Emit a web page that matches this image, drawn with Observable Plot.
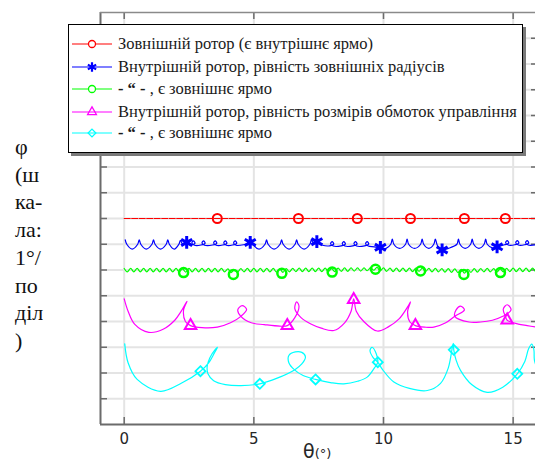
<!DOCTYPE html>
<html><head><meta charset="utf-8">
<script src="https://cdn.jsdelivr.net/npm/d3@7"></script>
<script src="https://cdn.jsdelivr.net/npm/@observablehq/plot@0.6"></script>
<style>
body{margin:0;background:#fff;}
#wrap{position:relative;width:535px;height:467px;overflow:hidden;background:#fff;}
#ylab{position:absolute;left:15px;top:133px;font-family:'Liberation Serif','Times New Roman',serif;font-size:22px;line-height:27.7px;color:#111;}
#xlab{position:absolute;left:303px;top:440px;font-family:'DejaVu Sans',sans-serif;color:#262626;white-space:nowrap;}
#legend{position:absolute;left:68px;top:24px;width:455px;height:129px;border:1px solid #000;background:#fff;box-shadow:3px 3px 0 #7a7a7a;box-sizing:border-box;}
.row{position:absolute;left:0;height:22px;width:450px;}
.row svg{position:absolute;left:1px;top:0;}
.row span{position:absolute;left:49px;top:0;line-height:22px;font-family:'Liberation Serif','Times New Roman',serif;font-size:16.5px;color:#1a1a1a;white-space:nowrap;}
</style></head>
<body><div id="wrap"></div>
<script>
const xTicks = [0, 5, 10, 15];
const yTicks = [1,2,3,4,5,6,7,8,9,10,11,12,13,14,15];
const xDomain = [-0.914, 15.862];
const yDomain = [0, 16];

const seriesNames = [
  "Зовнішній ротор (є внутрішнє ярмо)",
  "Внутрішній ротор, рівність зовнішніх радіусів",
  "- “ - , є зовнішнє ярмо",
  "Внутрішній ротор, рівність розмірів обмоток управління",
  "- “ - , є зовнішнє ярмо"
];
const seriesColors = ["#ff0000", "#0000ff", "#00ff00", "#ff00ff", "#00ffff"];
const seriesSymbols = ["circle", "asterisk", "circle", "triangle2", "diamond2"];

const redPts = [[0, 8], [15.9, 8]];
const redMarks = [[3.59, 8], [6.72, 8], [8.99, 8], [11.04, 8], [13.12, 8], [14.70, 8]];

const bluePts = [
 [0.04,7.17],[0.1,7.0],[0.31,6.81],[0.52,7.0],[0.58,7.17],
 [0.64,7.0],[0.85,6.81],[1.07,7.0],[1.13,7.17],
 [1.19,7.0],[1.4,6.81],[1.62,7.0],[1.68,7.17],
 [1.74,7.0],[1.93,6.81],[2.11,7.0],[2.17,7.15],
 [2.26,7.0],[2.41,7.05],
 [2.57,6.97],[2.73,7.04],[2.67,7.13],[2.61,7.05],[2.71,6.96],
 [2.96,6.97],[3.12,7.04],[3.06,7.13],[3.0,7.05],[3.1,6.96],
 [3.41,6.97],[3.57,7.04],[3.51,7.13],[3.45,7.05],[3.55,6.96],
 [3.8,6.97],[3.96,7.04],[3.9,7.13],[3.84,7.05],[3.94,6.96],
 [4.18,6.97],[4.34,7.04],[4.28,7.13],[4.22,7.05],[4.32,6.96],
 [4.6,6.98],[4.86,7.07],
 [4.91,7.17],[4.97,7.0],[5.2,6.81],[5.43,7.0],[5.49,7.17],
 [5.55,7.0],[5.78,6.81],[6.01,7.0],[6.07,7.17],
 [6.13,7.0],[6.36,6.81],[6.59,7.0],[6.65,7.17],
 [6.71,7.0],[6.94,6.81],[7.16,7.0],[7.22,7.17],
 [7.3,7.04],[7.43,7.07],[7.65,6.96],
 [7.92,6.94],[8.08,7.01],[8.02,7.1],[7.96,7.02],[8.06,6.93],
 [8.37,6.94],[8.53,7.01],[8.47,7.1],[8.41,7.02],[8.51,6.93],
 [8.82,6.94],[8.98,7.01],[8.92,7.1],[8.86,7.02],[8.96,6.93],
 [9.27,6.94],[9.43,7.01],[9.37,7.1],[9.31,7.02],[9.41,6.93],
 [9.65,6.9],[9.88,6.85],
 [10.1,6.84],[10.28,7.0],[10.34,7.2],[10.4,7.0],[10.62,6.84],[10.85,7.0],[10.91,7.2],
 [10.97,7.0],[11.2,6.84],[11.43,7.0],[11.49,7.2],[11.55,7.0],[11.75,6.84],[11.94,7.0],[12.0,7.2],
 [12.08,6.95],[12.26,6.78],
 [12.5,6.84],[12.83,7.0],[12.89,7.2],[12.95,7.0],[13.15,6.84],[13.36,7.0],[13.42,7.2],
 [13.48,7.0],[13.68,6.84],[13.88,7.0],[13.94,7.2],[14.0,7.0],[14.2,6.86],[14.38,6.9],
 [14.67,6.98],[14.83,7.05],[14.77,7.14],[14.71,7.06],[14.81,6.97],
 [15.06,6.98],[15.22,7.05],[15.16,7.14],[15.1,7.06],[15.2,6.97],
 [15.44,6.98],[15.6,7.05],[15.54,7.14],[15.48,7.06],[15.58,6.97],
 [15.9,6.98]
];
const blueMarks = [[2.41,7.07],[4.86,7.07],[7.43,7.1],[9.88,6.88],[12.26,6.78],[14.38,6.9]];

const greenPts = [
 [0,6.06],[0.12,5.93],[0.25,6.06],[0.37,5.93],[0.5,6.06],[0.62,5.93],[0.75,6.06],[0.87,5.93],
 [1,6.06],[1.12,5.93],[1.25,6.06],[1.37,5.93],[1.5,6.06],[1.62,5.93],[1.75,6.06],[1.87,5.93],
 [2,6.06],[2.12,5.93],[2.25,6.04],[2.37,5.92],[2.5,6.06],[2.62,5.93],[2.75,6.06],[2.87,5.93],
 [3,6.06],[3.12,5.93],[3.25,6.06],[3.37,5.93],[3.5,6.06],[3.62,5.93],[3.75,6.06],[3.87,5.93],
 [4,6.04],[4.12,5.9],[4.25,6.02],[4.37,5.92],[4.5,6.05],[4.62,5.93],[4.75,6.06],[4.87,5.93],
 [5,6.06],[5.12,5.93],[5.25,6.06],[5.37,5.93],[5.5,6.06],[5.62,5.93],[5.75,6.06],[5.87,5.92],
 [6,6.04],[6.12,5.91],[6.25,6.05],[6.37,5.93],[6.5,6.06],[6.62,5.94],[6.75,6.07],[6.87,5.94],
 [7,6.07],[7.12,5.94],[7.25,6.07],[7.37,5.94],[7.5,6.07],[7.62,5.94],[7.75,6.07],[7.87,5.94],
 [8,6.05],[8.12,5.94],[8.25,6.07],[8.37,5.95],[8.5,6.08],[8.62,5.95],[8.75,6.08],[8.87,5.96],
 [9,6.08],[9.12,5.96],[9.25,6.08],[9.37,5.97],[9.5,6.09],[9.62,5.99],[9.75,6.1],[9.87,5.97],
 [10,6.08],[10.12,5.95],[10.25,6.07],[10.37,5.94],[10.5,6.07],[10.62,5.94],[10.75,6.07],[10.87,5.94],
 [11,6.07],[11.12,5.94],[11.25,6.07],[11.37,5.95],[11.5,6.07],[11.62,5.94],[11.75,6.06],[11.87,5.93],
 [12,6.06],[12.12,5.93],[12.25,6.05],[12.37,5.92],[12.5,6.05],[12.62,5.91],[12.75,6.04],[12.87,5.9],
 [13,6.03],[13.12,5.88],[13.25,6.03],[13.37,5.91],[13.5,6.05],[13.62,5.92],[13.75,6.05],[13.87,5.93],
 [14,6.06],[14.12,5.93],[14.25,6.05],[14.37,5.92],[14.5,6.04],[14.62,5.93],[14.75,6.06],[14.87,5.94],
 [15,6.07],[15.12,5.94],[15.25,6.07],[15.37,5.94],[15.5,6.07],[15.62,5.94],[15.75,6.07],[15.87,5.94],
 [16,6.07]
];
const greenMarks = [[2.29,5.9],[4.21,5.83],[6.08,5.87],[8.02,5.92],[9.69,6.03],[11.43,5.96],[13.1,5.83],[14.51,5.9]];

const magentaPts = [
 [0.0,4.88],[0.15,4.4],[0.4,3.9],[0.95,3.58],[1.5,3.7],[1.95,4.05],[2.2,4.4],[2.42,4.78],
 [2.29,4.45],[2.36,4.0],[2.56,3.84],
 [3.0,3.76],[3.59,3.78],[4.1,3.95],[4.5,4.2],[4.72,4.47],[4.55,4.62],[4.38,4.45],[4.5,4.2],
 [4.9,3.95],[5.4,3.88],[6.0,3.82],[6.29,3.84],
 [6.58,4.15],[6.74,4.6],[6.65,4.76],[6.58,4.5],[6.82,4.15],[7.2,3.9],[7.6,3.74],[8.08,3.65],
 [8.5,3.95],[8.75,4.4],[8.85,4.88],[8.95,4.4],[9.24,4.0],[9.76,3.63],
 [10.2,3.8],[10.6,4.1],[10.95,4.6],[11.04,4.76],[10.93,4.38],[11.02,3.98],[11.23,3.84],
 [11.6,3.78],[11.94,3.78],[12.4,3.95],[12.75,4.2],[13.12,4.45],[12.97,4.6],[12.8,4.45],[12.75,4.2],
 [13.3,3.98],[13.74,3.98],[14.2,4.05],[14.6,4.2],[14.92,4.45],[14.77,4.65],[14.62,4.48],[14.7,4.2],
 [14.77,4.05],[15.2,3.9],[15.54,3.84],[15.9,3.78]
];
const magentaMarks = [[2.56,3.84],[6.29,3.84],[8.85,4.85],[11.23,3.84],[14.77,4.05]];

const cyanPts = [
 [0.02,3.13],[0.15,2.4],[0.5,1.75],[1.4,1.29],[2.2,1.6],[2.94,2.07],[3.25,2.38],[3.48,2.78],
 [3.6,3.0],[3.52,2.93],[3.3,2.58],[3.2,2.25],[3.23,1.97],[3.45,1.7],[3.9,1.55],[4.5,1.51],[5.23,1.58],
 [5.9,1.8],[6.57,2.12],[6.85,2.35],[6.99,2.62],[6.85,2.8],[6.6,2.82],[6.35,2.68],[6.35,2.4],[6.57,2.12],
 [6.9,1.9],[7.38,1.75],[8.0,1.62],[8.47,1.58],[9.0,1.68],[9.37,1.84],[9.65,2.2],[9.78,2.42],
 [9.72,2.75],[9.56,3.0],[9.48,2.88],[9.6,2.6],[9.78,2.42],[9.95,2.15],[10.4,1.65],[11.0,1.4],
 [11.69,1.32],[12.2,1.6],[12.5,2.2],[12.69,3.15],[12.71,2.9],[12.8,2.5],[12.97,2.1],[13.4,1.55],
 [14.0,1.25],[14.6,1.45],[15.16,1.97],[15.45,2.45],[15.6,2.95],[15.72,3.12],[15.8,2.9],[15.82,2.5],[15.95,2.1]
];
const cyanMarks = [[2.94,2.07],[5.23,1.58],[7.38,1.75],[9.78,2.42],[12.71,2.9],[15.16,1.97]];

const W = 535, H = 467, ML = 100, MR = 0, MT = 12, MB = 43;
const PW = W - ML - MR, PH = H - MT - MB;
const X = d => d[0], Y = d => d[1];
const gray = "#6b6b6b";

const chart = Plot.plot({
  width: W, height: H,
  marginLeft: ML, marginRight: MR, marginTop: MT, marginBottom: MB,
  x: {domain: xDomain},
  y: {domain: yDomain, axis: null},
  style: {fontFamily: "DejaVu Sans", fontSize: "15px", color: "#262626", background: "transparent", overflow: "hidden"},
  marks: [
    Plot.ruleX(xTicks, {stroke: "#e4e4e4", strokeWidth: 2}),
    Plot.ruleY(yTicks, {stroke: "#e4e4e4", strokeWidth: 2}),
    Plot.ruleX(xTicks, {stroke: gray, strokeWidth: 1.5, insetBottom: PH - 7}),
    Plot.ruleX(xTicks, {stroke: gray, strokeWidth: 1.5, insetTop: PH - 7}),
    Plot.ruleY(yTicks, {stroke: gray, strokeWidth: 1.5, insetRight: PW - 7}),
    Plot.ruleY(yTicks, {stroke: gray, strokeWidth: 1.5, insetLeft: PW - 4}),
    Plot.ruleX([xDomain[0]], {stroke: gray, strokeWidth: 2}),
    Plot.ruleY([yDomain[0]], {stroke: gray, strokeWidth: 2}),
    Plot.ruleY([yDomain[1]], {stroke: "#8a8a8a", strokeWidth: 1.5}),
    Plot.axisX({ticks: xTicks, tickSize: 0, tickPadding: 9, label: null, anchor: "bottom", fill: "#262626"}),
    Plot.line(redPts, {x: X, y: Y, stroke: seriesColors[0], strokeWidth: 1.2, strokeDasharray: "6,1.5", clip: true}),
    Plot.line(bluePts, {x: X, y: Y, stroke: seriesColors[1], strokeWidth: 1.2, curve: "catmull-rom", clip: true}),
    Plot.line(greenPts, {x: X, y: Y, stroke: seriesColors[2], strokeWidth: 1.2, curve: "catmull-rom", clip: true}),
    Plot.line(magentaPts, {x: X, y: Y, stroke: seriesColors[3], strokeWidth: 1.2, curve: "catmull-rom", clip: true}),
    Plot.line(cyanPts, {x: X, y: Y, stroke: seriesColors[4], strokeWidth: 1.2, curve: "catmull-rom", clip: true}),
    Plot.dot(redMarks, {x: X, y: Y, symbol: seriesSymbols[0], r: 4.5, stroke: seriesColors[0], strokeWidth: 2, fill: "none"}),
    Plot.dot(blueMarks, {x: X, y: Y, symbol: seriesSymbols[1], r: 6, stroke: seriesColors[1], strokeWidth: 3, fill: "none"}),
    Plot.dot(greenMarks, {x: X, y: Y, symbol: seriesSymbols[2], r: 4.5, stroke: seriesColors[2], strokeWidth: 2.5, fill: "none"}),
    Plot.dot(magentaMarks, {x: X, y: Y, symbol: seriesSymbols[3], r: 5.5, stroke: seriesColors[3], strokeWidth: 2, fill: "none"}),
    Plot.dot(cyanMarks, {x: X, y: Y, symbol: seriesSymbols[4], r: 4.5, stroke: seriesColors[4], strokeWidth: 1.8, fill: "none"})
  ]
});

const wrap = document.getElementById("wrap");
wrap.appendChild(chart);

// y label
const ylabLines = ["φ", "(ш", "ка-", "ла:", "1°/", "по", "діл", ")"];
const ylab = document.createElement("div");
ylab.id = "ylab";
ylab.innerHTML = ylabLines.join("<br>");
wrap.appendChild(ylab);

// x label
const xlab = document.createElement("div");
xlab.id = "xlab";
xlab.innerHTML = '<span style="font-size:19px">θ</span><span style="font-size:13px">(°)</span>';
wrap.appendChild(xlab);

// legend
const legend = document.createElement("div");
legend.id = "legend";
const symMap = {circle: d3.symbolCircle, asterisk: d3.symbolAsterisk, triangle2: d3.symbolTriangle2, diamond2: d3.symbolDiamond2};
const symR = [3.5, 4.5, 3.5, 4.2, 3.5];
const symW = [1.3, 2.2, 1.3, 1.3, 1.3];
const rowTops = [8, 30.5, 53, 75.5, 97];
seriesNames.forEach((name, i) => {
  const row = document.createElement("div");
  row.className = "row";
  row.style.top = rowTops[i] + "px";
  const svg = d3.create("svg").attr("width", 44).attr("height", 22);
  svg.append("line").attr("x1", 2).attr("x2", 42).attr("y1", 11).attr("y2", 11)
    .attr("stroke", seriesColors[i]).attr("stroke-width", 1.2);
  svg.append("path").attr("transform", "translate(22,11)")
    .attr("d", d3.symbol(symMap[seriesSymbols[i]], symR[i] * symR[i] * Math.PI)())
    .attr("fill", i === 0 || i === 2 ? "#fff" : "none")
    .attr("stroke", seriesColors[i]).attr("stroke-width", symW[i]);
  row.appendChild(svg.node());
  const span = document.createElement("span");
  if (name.startsWith("- “ -")) {
    span.innerHTML = '<b>- “ -</b>' + name.slice(5);
  } else {
    span.textContent = name;
  }
  row.appendChild(span);
  legend.appendChild(row);
});
wrap.appendChild(legend);
</script>
</body></html>
